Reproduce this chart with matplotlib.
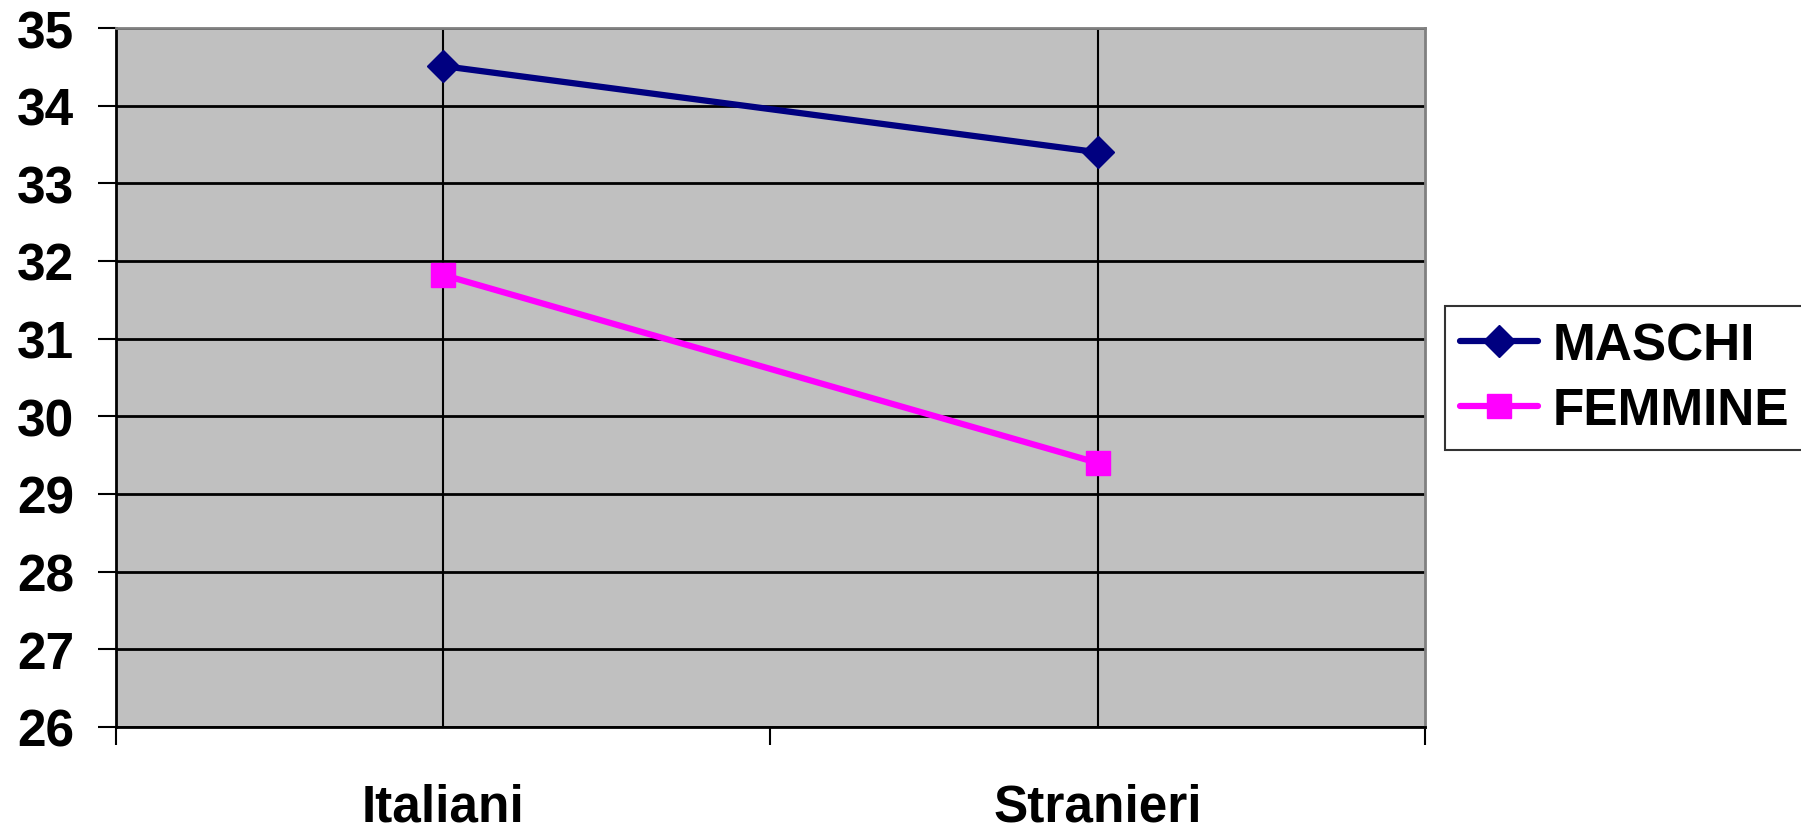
import matplotlib.pyplot as plt
from matplotlib import font_manager as fm

categories = ["Italiani", "Stranieri"]
maschi = [34.51, 33.40]
femmine = [31.82, 29.40]

names = {f.name for f in fm.fontManager.ttflist}
fam = "Liberation Sans" if "Liberation Sans" in names else "DejaVu Sans"
plt.rcParams["font.family"] = [fam, "DejaVu Sans"]
plt.rcParams["font.weight"] = "bold"

fs = 37

fig = plt.figure(figsize=(18.01, 8.29), dpi=100)
ax = fig.add_axes([0.0644, 0.122, 0.7267, 0.843])
ax.set_facecolor("#C0C0C0")

xs = list(range(len(categories)))
ax.plot(xs, maschi, color="#000080", lw=4.5, marker="D", ms=16, label="MASCHI",
        solid_capstyle="round", zorder=3)
ax.plot(xs, femmine, color="#FF00FF", lw=4.5, marker="s", ms=17, label="FEMMINE",
        solid_capstyle="round", zorder=3)

ax.set_xlim(-0.5, 1.5)
ax.set_ylim(26, 35)
ax.set_yticks(range(26, 36))
ax.grid(axis="y", color="black", lw=2)
for x in xs:
    ax.axvline(x, color="black", lw=1.5, zorder=1)

ax.set_xticks([-0.5, 0.5, 1.5])
ax.set_xticklabels([])
ax.set_xticks(xs, minor=True)
ax.set_xticklabels(categories, minor=True)
ax.tick_params(axis="x", which="major", direction="out", length=13, width=1.5)
ax.tick_params(axis="x", which="minor", length=0, pad=40, labelsize=fs)
ax.tick_params(axis="y", direction="out", length=13, width=1.5, pad=17, labelsize=fs)

for s in ("left", "bottom"):
    ax.spines[s].set_color("black")
    ax.spines[s].set_linewidth(2)
for s in ("top", "right"):
    ax.spines[s].set_color("#808080")
    ax.spines[s].set_linewidth(2)

leg = fig.legend(loc="center left", bbox_to_anchor=(1445 / 1801, 1 - 379 / 829),
                 fontsize=fs, frameon=True, fancybox=False, edgecolor="black",
                 handlelength=1.5, handletextpad=0.3, borderpad=0.3,
                 labelspacing=0.3, borderaxespad=0)
leg.get_frame().set_linewidth(1.5)

fig.savefig("out.png", dpi=100)
